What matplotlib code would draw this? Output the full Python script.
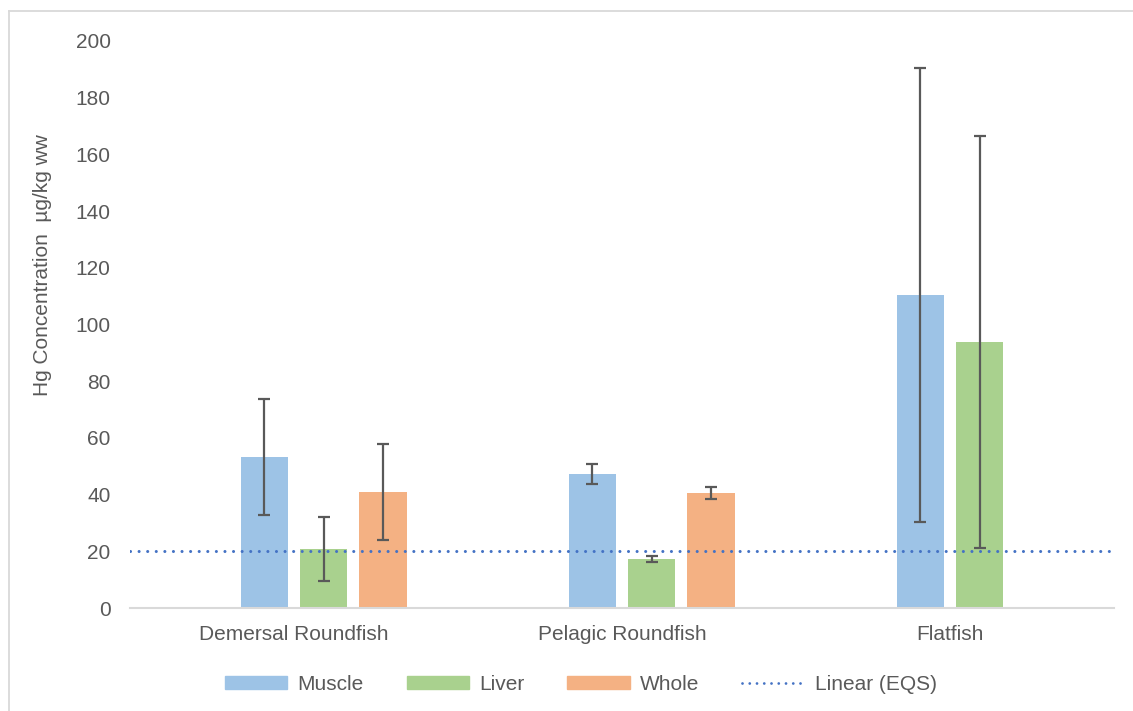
import numpy as np
import matplotlib
matplotlib.use("Agg")
import matplotlib.pyplot as plt
from matplotlib.lines import Line2D
from matplotlib.patches import Patch

categories = ["Demersal Roundfish", "Pelagic Roundfish", "Flatfish"]
muscle = [53.3, 47.3, 110.4]
muscle_err = [20.5, 3.5, 80.0]
liver = [20.8, 17.3, 93.8]
liver_err = [11.3, 0.9, 72.8]
whole = [40.9, 40.6, np.nan]
whole_err = [17.0, 2.1, np.nan]
eqs = 20
yticks = [0, 20, 40, 60, 80, 100, 120, 140, 160, 180, 200]

c_muscle = "#9DC3E6"
c_liver = "#A9D18E"
c_whole = "#F4B183"
c_eqs = "#4472C4"
c_text = "#595959"
c_err = "#595959"
fs = 15

plt.rcParams['font.family'] = ['Liberation Sans', 'DejaVu Sans']

fig = plt.figure(figsize=(11.33, 7.11), dpi=100)
ax = fig.add_axes([130/1133, 1-608/711, (1114-130)/1133, (608-41)/711])

x = np.arange(len(categories))
pitch = 0.18
width = 0.146
ekw = dict(ecolor=c_err, elinewidth=1.6, capsize=4.3, capthick=1.6)
ax.bar(x - 0.5*pitch, muscle, width, color=c_muscle, yerr=muscle_err, error_kw=ekw, zorder=2)
ax.bar(x + 0.5*pitch, liver, width, color=c_liver, yerr=liver_err, error_kw=ekw, zorder=2)
ax.bar(x + 1.5*pitch, whole, width, color=c_whole, yerr=whole_err, error_kw=ekw, zorder=2)

dot_style = (0, (0.01, 2.8))
ax.plot([-0.5, 2.5], [eqs, eqs], color=c_eqs, lw=2.2, linestyle=dot_style,
        dash_capstyle='round', zorder=3)

ax.set_xlim(-0.5, 2.5)
ax.set_ylim(0, 200)
ax.set_yticks(yticks)
ax.set_yticklabels([str(v) for v in yticks])
ax.set_xticks(x)
ax.set_xticklabels(categories)
ax.tick_params(axis='both', length=0, labelsize=fs, colors=c_text)
ax.tick_params(axis='y', pad=14)
ax.tick_params(axis='x', pad=12)
for s in ['top', 'right', 'left']:
    ax.spines[s].set_visible(False)
ax.spines['bottom'].set_color('#D9D9D9')
ax.spines['bottom'].set_linewidth(1.5)
ax.set_ylabel("Hg Concentration  µg/kg ww", fontsize=fs, color=c_text)
ax.yaxis.set_label_coords(-78/984, (608-265)/567)

handles = [Patch(color=c_muscle), Patch(color=c_liver), Patch(color=c_whole),
           Line2D([0], [0], color=c_eqs, lw=2.0, linestyle=(0, (0.01, 2.6)), dash_capstyle='round')]
labels = ["Muscle", "Liver", "Whole", "Linear (EQS)"]
fig.legend(handles, labels, loc='center', bbox_to_anchor=(581/1133, 1-684/711), ncol=4,
           frameon=False, fontsize=fs, labelcolor=c_text, handlelength=3.0,
           handleheight=0.6, handletextpad=0.5, columnspacing=2.05)

# chart area border
fig.add_artist(Line2D([9/1133, 1], [1-11/711, 1-11/711], color='#D9D9D9', lw=1.3, transform=fig.transFigure))
fig.add_artist(Line2D([9/1133, 9/1133], [0, 1-11/711], color='#D9D9D9', lw=1.3, transform=fig.transFigure))

fig.savefig("out.png", dpi=100)
